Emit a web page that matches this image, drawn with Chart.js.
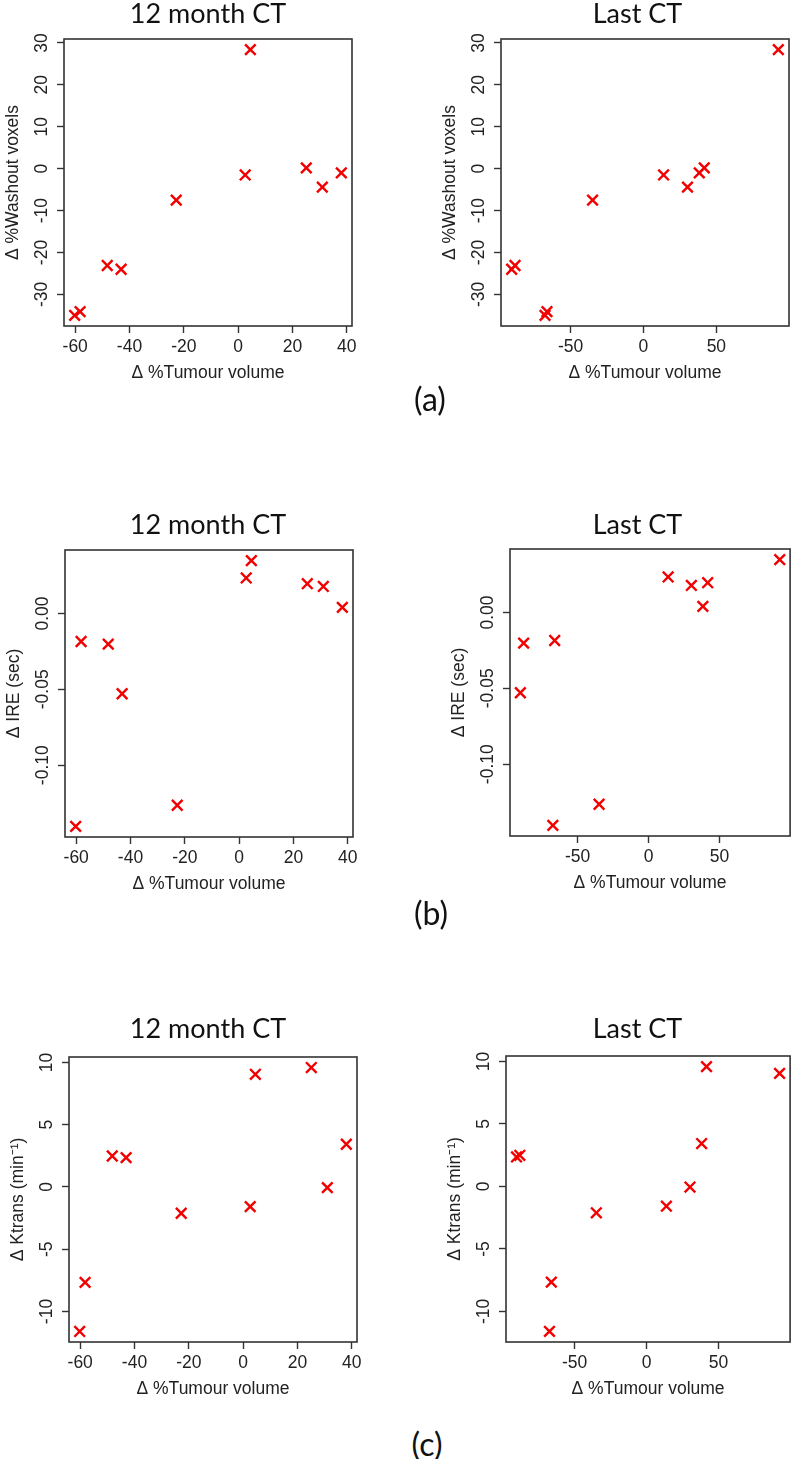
<!DOCTYPE html>
<html>
<head>
<meta charset="utf-8">
<script src="https://cdn.jsdelivr.net/npm/chart.js@4.4.1/dist/chart.umd.min.js"></script>
<style>
  html, body { margin: 0; padding: 0; background: #fff; }
  #page { position: relative; width: 800px; height: 1459px; overflow: hidden; background: #fff; }
  #page canvas { position: absolute; }
  .txt { position: absolute; transform: translate(-50%, -50%); line-height: 1; white-space: nowrap;
         font-family: Lato, 'Open Sans', sans-serif; color: #111; }
  .title { font-size: 27px; }
  .tag { font-size: 32px; }
</style>
</head>
<body>
<div id="page"></div>
<script>
// Δ %Tumour volume for the 10 patients, at 12 months and at the last CT
const tumour12m  = [-60.2, -58.2, -48.2, -43.1, -22.8, 2.6, 4.5, 25.1, 31.0, 38.0];
const tumourLast = [-67.5, -66.2, -88.1, -90.4, -34.9, 13.8, 92.5, 41.7, 30.2, 38.3];

// response measures, same patient order
const washout = [-35.0, -34.1, -23.1, -24.0, -7.5, -1.5, 28.4, 0.2, -4.4, -1.0];
const ire     = [-0.1403, -0.0185, -0.0202, -0.0529, -0.1264, 0.0234, 0.0348, 0.0196, 0.0178, 0.0040];
const ktrans  = [-11.6, -7.66, 2.49, 2.36, -2.11, -1.58, 9.05, 9.59, -0.05, 3.43];

// tick values
const ticks12m     = [-60, -40, -20, 0, 20, 40];
const ticksLast    = [-50, 0, 50];
const washoutTicks = [-30, -20, -10, 0, 10, 20, 30];
const ireTicks     = [-0.10, -0.05, 0.00];
const ktransTicks  = [-10, -5, 0, 5, 10];

const AXIS_FONT = "'Liberation Sans', Arial, sans-serif";
const AXIS_SIZE = 17.5;
const TEXT_COL = '#222';
const X_AXIS_H = 58;
const Y_AXIS_W = 61.5;
const page = document.getElementById('page');

// R pads the data range by 4% each side
function rRange(vals) {
  const lo = Math.min(...vals), hi = Math.max(...vals);
  const pad = (hi - lo) * 0.04;
  return [lo - pad, hi + pad];
}

const boxFrame = {
  id: 'boxFrame',
  afterDatasetsDraw(chart) {
    const { ctx, chartArea: a } = chart;
    ctx.save();
    ctx.strokeStyle = '#333';
    ctx.lineWidth = 1.6;
    ctx.strokeRect(a.left, a.top, a.right - a.left, a.bottom - a.top);
    ctx.restore();
  }
};

const measure = document.createElement('canvas').getContext('2d');
measure.font = AXIS_SIZE + 'px ' + AXIS_FONT;

function addText(cls, text, x, y) {
  const d = document.createElement('div');
  d.className = 'txt ' + cls;
  d.textContent = text;
  d.style.left = x + 'px';
  d.style.top = y + 'px';
  page.appendChild(d);
}

function makePanel(p) {
  const [bl, bt, br, bb] = p.box;
  const cLeft = p.col * 400;
  const cTop = bt - 20;
  const w = 400, h = (bb - bt) + 20 + X_AXIS_H + 2;

  const canvas = document.createElement('canvas');
  canvas.width = w; canvas.height = h;
  canvas.style.left = cLeft + 'px'; canvas.style.top = cTop + 'px';
  canvas.style.width = w + 'px'; canvas.style.height = h + 'px';
  page.appendChild(canvas);

  const [xMin, xMax] = rRange(p.x);
  const [yMin, yMax] = rRange(p.y);
  const widest = Math.max(...p.yTicks.map(v => measure.measureText(p.yFmt(v)).width));

  new Chart(canvas, {
    type: 'scatter',
    data: {
      datasets: [{
        data: p.x.map((v, i) => ({ x: v, y: p.y[i] })),
        pointStyle: 'crossRot',
        pointRadius: 7.5,
        pointHoverRadius: 7.5,
        pointBorderWidth: 2.4,
        pointBorderColor: '#f20000',
        pointBackgroundColor: '#f20000',
      }],
    },
    options: {
      responsive: false,
      animation: false,
      devicePixelRatio: 1,
      layout: {
        padding: { left: bl - cLeft - Y_AXIS_W, right: cLeft + 400 - br, top: 20, bottom: 2 },
      },
      plugins: { legend: { display: false }, tooltip: { enabled: false } },
      scales: {
        x: {
          type: 'linear',
          position: 'bottom',
          min: xMin, max: xMax,
          bounds: 'data',
          afterBuildTicks: (s) => { s.ticks = p.xTicks.map(v => ({ value: v })); },
          afterFit: (s) => { s.height = X_AXIS_H; },
          grid: { display: true, drawOnChartArea: false, drawTicks: true, tickLength: 7, tickColor: '#333', tickWidth: 1.4 },
          border: { display: false },
          ticks: {
            autoSkip: false, maxRotation: 0, minRotation: 0, padding: 3.8,
            color: TEXT_COL, font: { family: AXIS_FONT, size: AXIS_SIZE },
            callback: (v) => String(v),
          },
          title: {
            display: true, text: 'Δ %Tumour volume', color: TEXT_COL,
            font: { family: AXIS_FONT, size: AXIS_SIZE }, padding: { top: 0, bottom: 0 },
          },
        },
        y: {
          type: 'linear',
          position: 'left',
          min: yMin, max: yMax,
          bounds: 'data',
          afterBuildTicks: (s) => { s.ticks = p.yTicks.map(v => ({ value: v })); },
          afterFit: (s) => { s.width = Y_AXIS_W; },
          grid: { display: true, drawOnChartArea: false, drawTicks: true, tickLength: 7, tickColor: '#333', tickWidth: 1.4 },
          border: { display: false },
          ticks: {
            autoSkip: false, minRotation: 90, maxRotation: 90, crossAlign: 'center',
            padding: 15 - widest / 2,
            color: TEXT_COL, font: { family: AXIS_FONT, size: AXIS_SIZE },
            callback: (v) => p.yFmt(v),
          },
          title: {
            display: true, text: p.yTitle, color: TEXT_COL,
            font: { family: AXIS_FONT, size: AXIS_SIZE }, padding: { top: 0, bottom: 0 },
          },
        },
      },
    },
    plugins: [boxFrame],
  });
}

const intFmt = (v) => String(v);
const ireFmt = (v) => v.toFixed(2);

const panels = [
  { col: 0, x: tumour12m,  y: washout, xTicks: ticks12m,  yTicks: washoutTicks, yFmt: intFmt, yTitle: 'Δ %Washout voxels', box: [64, 39, 352, 326] },
  { col: 1, x: tumourLast, y: washout, xTicks: ticksLast, yTicks: washoutTicks, yFmt: intFmt, yTitle: 'Δ %Washout voxels', box: [501, 39, 789, 326] },
  { col: 0, x: tumour12m,  y: ire,     xTicks: ticks12m,  yTicks: ireTicks,     yFmt: ireFmt, yTitle: 'Δ IRE (sec)',       box: [65, 550, 353, 837] },
  { col: 1, x: tumourLast, y: ire,     xTicks: ticksLast, yTicks: ireTicks,     yFmt: ireFmt, yTitle: 'Δ IRE (sec)',       box: [510, 549, 798, 836] },
  { col: 0, x: tumour12m,  y: ktrans,  xTicks: ticks12m,  yTicks: ktransTicks,  yFmt: intFmt, yTitle: 'Δ Ktrans (min⁻¹)',  box: [69, 1057, 357, 1342] },
  { col: 1, x: tumourLast, y: ktrans,  xTicks: ticksLast, yTicks: ktransTicks,  yFmt: intFmt, yTitle: 'Δ Ktrans (min⁻¹)',  box: [506, 1056, 794, 1342] },
];

panels.forEach(makePanel);

// panel titles and figure tags
addText('title', '12 month CT', 208, 12);
addText('title', 'Last CT', 637.5, 12);
addText('title', '12 month CT', 208, 523);
addText('title', 'Last CT', 637.5, 523);
addText('title', '12 month CT', 208, 1027);
addText('title', 'Last CT', 637.5, 1027);
addText('tag', '(a)', 430, 399);
addText('tag', '(b)', 431, 913);
addText('tag', '(c)', 427, 1444);
</script>
</body>
</html>
